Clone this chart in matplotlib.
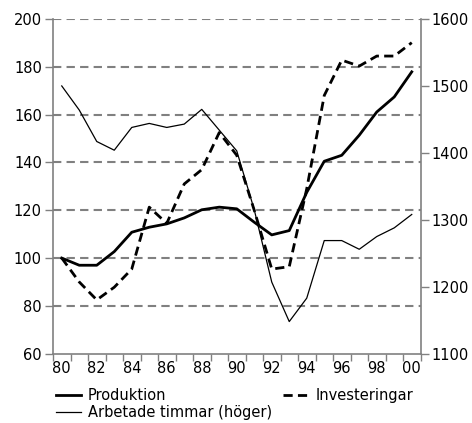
import matplotlib
matplotlib.use("Agg")
import matplotlib.pyplot as plt
import numpy as np

plt.rcParams['font.family'] = ['DejaVu Sans']

years = list(range(1980, 2001))
tick_labels = ['80', '82', '84', '86', '88', '90', '92', '94', '96', '98', '00']

produktion = [100, 97, 97, 102.7, 110.8, 112.9, 114.3, 116.8, 120.2, 121.3, 120.6,
              115, 109.7, 111.5, 127.5, 140.5, 143, 151.4, 161.1, 167.4, 177.9]
investeringar = [100, 90, 82.5, 87.8, 95.4, 121.3, 114.5, 131, 137, 152.5, 143,
                 120, 95.4, 96.4, 129, 168, 182.8, 180.3, 184.5, 184.5, 190.1]
timmar = [1500, 1464, 1417, 1404, 1438, 1444, 1438, 1443, 1465, 1434, 1403,
          1315, 1207, 1148, 1183, 1269, 1269, 1256, 1275, 1288, 1308]

fig = plt.figure(figsize=(4.72, 4.23), dpi=100)
ax = fig.add_axes([53/472, 1-353.7/423, (420.5-53)/472, (353.7-19)/423])
ax2 = ax.twinx()

gray = '#808080'
fs = 10.5

ax.set_xlim(1979.5, 2000.5)
ax.set_ylim(60, 200)
ax.set_yticks(range(60, 201, 20))
for v in range(80, 201, 20):
    ax.axhline(v, color=gray, lw=1.5, ls=(0, (4, 2.5)), zorder=0)

l1, = ax.plot(years, produktion, color='black', lw=2.0, zorder=3)
l2, = ax.plot(years, investeringar, color='black', lw=2.0, ls=(0, (3.3, 1.9)), zorder=3)

ax2.set_ylim(1100, 1600)
ax2.set_yticks(range(1100, 1601, 100))
l3, = ax2.plot(years, timmar, color='black', lw=0.9, zorder=3)

ax.set_xticks(years[::2])
ax.set_xticklabels(tick_labels)
ax.set_xticks(np.arange(1979.5, 2001, 1.0), minor=True)
ax.tick_params(axis='x', which='major', length=0, labelsize=fs, pad=5)
ax.tick_params(axis='x', which='minor', length=5, color=gray, width=1)
ax.tick_params(axis='y', length=6, color=gray, width=1, labelsize=fs, pad=2)
ax2.tick_params(axis='y', length=6, color=gray, width=1, labelsize=fs, pad=2)

for a in (ax, ax2):
    a.spines['top'].set_visible(False)
    for s in ('left', 'right', 'bottom'):
        a.spines[s].set_color(gray)
        a.spines[s].set_linewidth(1.2)
ax.spines['right'].set_visible(False)
ax2.spines['left'].set_visible(False)
ax2.spines['bottom'].set_visible(False)

leg = fig.legend([l1, l3, l2], ['Produktion', 'Arbetade timmar (höger)', 'Investeringar'],
                 ncol=2, loc='upper left', bbox_to_anchor=(56/472, 1-388/423),
                 frameon=False, fontsize=fs, handlelength=1.7, handletextpad=0.5,
                 columnspacing=0.75, labelspacing=0.15, borderaxespad=0, borderpad=0)

fig.savefig('out.png', dpi=100)
